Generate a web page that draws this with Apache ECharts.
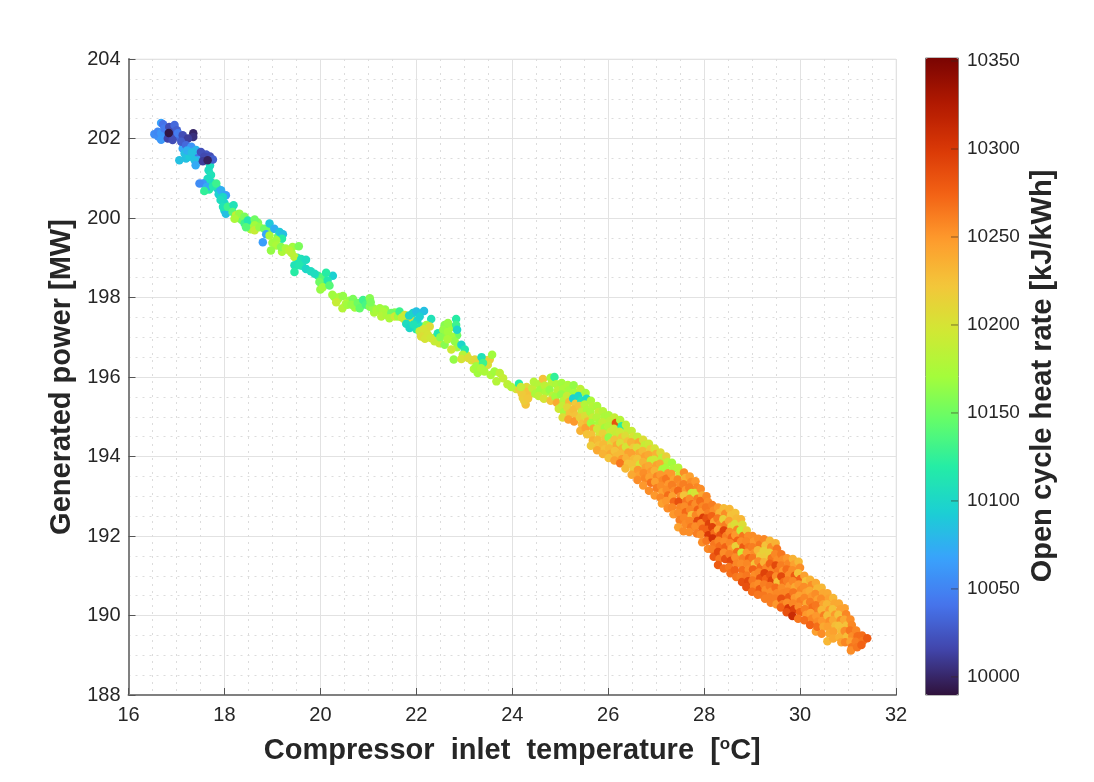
<!DOCTYPE html>
<html>
<head>
<meta charset="utf-8">
<title>Generated power vs compressor inlet temperature</title>
<script src="https://cdn.jsdelivr.net/npm/echarts@6/dist/echarts.min.js"></script>
<style>html,body{margin:0;padding:0;background:#fff}#chart{width:1094px;height:782px}</style>
</head>
<body>
<div id="chart"></div>
<script>
// Each record: compressor inlet temperature [degC], generated power [MW], heat rate [kJ/kWh]
const coldFill = [
[16.62,202.05,10058],[16.74,202.08,10050],[16.78,202.18,10030],[16.9,202.1,10010],[16.88,202.22,10025],[16.97,202.05,10022],
[17.07,202.03,10035],[17.18,201.95,10025],[17.13,201.75,10070],[17.25,201.75,10080],[17.33,201.58,10085],[17.2,201.5,10085],
[17.47,201.58,10040],[17.62,201.6,10025],[17.7,201.55,10020],[17.46,201.45,10070],[17.7,201.32,10105],[17.62,200.9,10080],
[17.72,200.9,10100],[17.68,200.72,10120],[17.85,200.75,10085],[17.88,200.6,10095],[18.0,200.38,10100],[18.12,200.2,10135],
[18.28,200.0,10170],[18.36,199.95,10150],[18.55,199.88,10140],[18.7,199.88,10155],[18.55,199.72,10175],[18.98,199.72,10140],
[19.12,199.55,10150],[19.0,199.38,10170],[19.2,199.15,10175],[19.4,199.12,10180],[19.52,199.0,10125],[19.62,198.8,10110],
[19.95,198.55,10125],[20.1,198.38,10130],[20.0,198.2,10165]
];
const coldBranch = [
[16.54,202.11,10055],[16.61,202.17,10052],[16.68,202.39,10068],[16.72,202.36,10040],[16.68,202.13,10060],[16.68,201.97,10062],
[16.75,202.25,10045],[16.82,202.0,10015],[16.85,202.29,10020],[16.96,202.34,10035],[17.01,202.21,10030],[16.92,201.96,10020],
[17.03,202.13,10045],[17.13,202.08,10020],[17.35,202.13,10000],[17.35,202.04,10005],[17.24,202.0,10012],[16.84,202.14,9992],
[17.1,201.92,10028],[17.2,201.83,10035],[17.31,201.79,10060],[17.41,201.71,10078],[17.17,201.62,10085],[17.06,201.45,10085],
[17.27,201.54,10090],[17.38,201.45,10085],[17.4,201.33,10072],[17.22,201.7,10075],[17.32,201.65,10085],[17.51,201.66,10022],
[17.58,201.54,10018],[17.76,201.47,10030],[17.55,201.43,10012],[17.65,201.45,9998],[17.67,201.2,10105],[17.72,201.08,10110],
[17.65,200.99,10105],[17.55,200.87,10060],[17.48,200.87,10055],[17.63,200.78,10072],[17.58,200.68,10125],[17.76,200.8,10115],
[17.83,200.87,10130],[17.93,200.7,10075],[18.03,200.57,10065],[17.97,200.53,10100],[17.92,200.45,10105],[18.0,200.19,10095],
[18.03,200.11,10085],[17.97,200.28,10110],[18.07,200.28,10130],[18.19,200.32,10110],[18.17,200.15,10140],[18.24,200.07,10190],
[18.31,200.11,10165],[18.21,199.98,10175],[18.42,200.03,10155],[18.42,199.86,10130],[18.49,199.94,10115],[18.45,199.77,10140],
[18.63,199.96,10150],[18.63,199.82,10170],[18.63,199.69,10190],[18.73,199.77,10165],[18.83,199.73,10150],[18.94,199.86,10090],
[18.9,199.65,10150],[18.87,199.59,10070],[18.8,199.39,10065],[18.94,199.56,10175],[19.04,199.73,10075],[19.15,199.65,10090],
[19.22,199.59,10085],[19.2,199.48,10120],[19.08,199.44,10170],[19.08,199.31,10175],[18.97,199.18,10165],[19.18,199.27,10160],
[19.28,199.23,10175],[19.42,199.27,10170],[19.55,199.29,10155],[19.35,199.18,10185],[19.46,199.02,10185],[19.6,198.97,10110],
[19.7,198.95,10105],[19.53,198.85,10115],[19.46,198.81,10110],[19.46,198.64,10120],[19.56,198.81,10115],[19.7,198.72,10100],
[19.8,198.66,10105],[19.88,198.6,10105],[20.05,198.51,10140],[20.26,198.55,10095],[20.15,198.43,10115],[19.98,198.39,10150],
[20.05,198.26,10170],[20.19,198.3,10140],[20.12,198.62,10120]
];
const plateauFill = [
[20.37,197.96,10175],[20.6,197.92,10165],[20.72,197.75,10170],[20.85,197.82,10145],[20.97,197.9,10140],[21.12,197.62,10175],
[21.35,197.7,10165],[21.55,197.62,10160],[21.9,197.45,10205],[22.02,197.42,10100],[22.0,197.2,10120],[22.2,197.15,10195],
[22.4,197.0,10150],[22.48,196.85,10195],[22.6,197.1,10165],[22.72,197.25,10170],[22.85,197.05,10150],[22.85,196.75,10170],
[23.05,196.55,10200],[23.15,196.42,10200],[23.3,196.35,10190],[23.45,196.42,10210],[23.2,196.2,10175],[23.55,196.05,10175],
[24.08,195.7,10200],[24.3,195.75,10210]
];
const plateauBranch = [
[20.29,198.01,10170],[20.4,198.01,10175],[20.33,197.88,10190],[20.25,198.07,10170],[20.47,198.04,10165],[20.53,197.84,10180],
[20.46,197.73,10180],[20.56,197.82,10170],[20.68,197.96,10155],[20.65,197.82,10165],[20.78,197.86,10150],[20.82,197.73,10145],
[20.89,197.94,10130],[20.95,197.82,10135],[21.03,197.98,10160],[21.03,197.77,10160],[21.1,197.73,10165],[21.05,197.88,10155],
[21.17,197.68,10175],[21.24,197.73,10170],[21.31,197.65,10175],[21.27,197.52,10180],[21.38,197.56,10175],[21.48,197.61,10150],
[21.44,197.48,10175],[21.55,197.52,10195],[21.62,197.52,10170],[21.65,197.65,10130],[21.76,197.56,10200],[21.76,197.44,10205],
[21.7,197.5,10190],[21.93,197.61,10100],[22.0,197.65,10085],[22.16,197.66,10085],[22.31,197.46,10110],[22.07,197.52,10095],
[21.85,197.55,10100],[21.79,197.34,10105],[21.86,197.23,10100],[21.94,197.32,10110],[22.1,197.27,10110],[22.21,197.31,10170],
[22.28,197.27,10205],[22.07,197.15,10190],[22.15,197.2,10200],[22.1,197.02,10205],[22.24,197.06,10200],[22.18,196.96,10200],
[22.38,196.9,10190],[22.3,196.98,10195],[22.45,197.1,10115],[22.59,197.31,10160],[22.66,197.36,10165],[22.83,197.46,10120],
[22.83,197.31,10130],[22.85,197.19,10100],[22.56,197.19,10165],[22.5,197.0,10160],[22.66,197.14,10170],[22.73,197.02,10170],
[22.8,196.9,10165],[22.59,196.81,10160],[22.65,196.95,10175],[22.73,196.69,10195],[22.94,196.81,10100],[23.01,196.69,10115],
[22.97,196.56,10180],[22.78,196.44,10165],[22.94,196.45,10200],[23.08,196.48,10205],[23.22,196.44,10210],[23.36,196.5,10110],
[23.53,196.44,10215],[23.58,196.56,10170],[23.49,196.31,10205],[23.25,196.27,10170],[23.39,196.35,10130],[23.28,196.1,10170],
[23.42,196.14,10175],[23.35,196.22,10175],[23.63,196.14,10170],[23.74,196.1,10185],[23.81,195.97,10190],[23.67,195.89,10180],
[23.9,195.82,10185],[23.98,195.75,10180],[24.14,195.83,10120],[24.15,195.68,10215],[24.36,195.56,10225],[24.22,195.47,10215],
[24.28,195.31,10225],[24.3,195.62,10225],[24.2,195.58,10220],[24.25,195.4,10218],[24.33,195.46,10222],[24.18,195.75,10190]
];
const westBand = [
[24.42,195.72,10190],[24.45,195.88,10180],[24.48,195.58,10175],[24.56,195.82,10180],[24.58,195.67,10170],[24.55,195.52,10185],
[24.64,195.95,10225],[24.68,195.78,10185],[24.7,195.62,10175],[24.66,195.45,10200],[24.8,195.98,10170],[24.82,195.84,10180],
[24.78,195.68,10165],[24.84,195.53,10180],[24.8,195.4,10225],[24.88,196.0,10125],[24.92,195.82,10175],[24.95,195.66,10185],
[24.9,195.5,10170],[24.93,195.35,10240],[24.97,195.2,10195],[25.03,195.85,10170],[25.06,195.7,10175],[25.02,195.56,10165],
[25.07,195.4,10180],[25.04,195.27,10190],[25.08,195.12,10175],[25.05,194.98,10205],[25.16,195.8,10175],[25.18,195.66,10170],
[25.14,195.52,10190],[25.19,195.37,10230],[25.15,195.23,10210],[25.2,195.08,10225],[25.17,194.93,10245],[25.28,195.79,10165],
[25.31,195.6,10170],[25.27,195.46,10095],[25.32,195.33,10220],[25.28,195.18,10228],[25.33,195.03,10225],[25.29,194.88,10250],
[25.42,195.7,10185],[25.38,195.52,10100],[25.44,195.4,10110],[25.4,195.27,10225],[25.45,195.13,10190],[25.41,194.98,10215],
[25.45,194.82,10225],[25.42,194.65,10235],[25.53,195.6,10170],[25.55,195.45,10105],[25.51,195.31,10180],[25.56,195.17,10175],
[25.52,195.02,10205],[25.57,194.88,10230],[25.53,194.72,10245],[25.56,194.56,10225],[25.64,195.4,10175],[25.67,195.26,10180],
[25.63,195.12,10175],[25.68,194.98,10190],[25.64,194.84,10170],[25.69,194.7,10240],[25.65,194.55,10225],[25.68,194.4,10235],
[25.64,194.27,10220],[25.77,195.27,10175],[25.8,195.12,10190],[25.76,194.98,10180],[25.81,194.84,10175],[25.77,194.7,10195],
[25.82,194.56,10200],[25.78,194.42,10230],[25.81,194.28,10225],[25.77,194.16,10240],[25.89,195.14,10180],[25.92,195.0,10175],
[25.88,194.86,10190],[25.93,194.72,10170],[25.89,194.58,10215],[25.94,194.44,10225],[25.9,194.3,10230],[25.93,194.18,10225],
[25.89,194.06,10235],[26.01,195.04,10175],[26.04,194.9,10185],[26.0,194.76,10180],[26.05,194.62,10195],[26.01,194.48,10165],
[26.06,194.34,10210],[26.02,194.2,10230],[26.05,194.06,10240],[26.01,193.96,10225]
];
const middleBand = [
[26.13,194.98,10190],[26.16,194.84,10285],[26.12,194.7,10195],[26.17,194.56,10190],[26.13,194.42,10225],[26.18,194.28,10240],
[26.14,194.14,10225],[26.17,194.0,10230],[26.13,193.9,10245],[26.25,194.92,10180],[26.28,194.76,10120],[26.24,194.62,10195],
[26.29,194.48,10225],[26.25,194.34,10205],[26.3,194.2,10235],[26.26,194.06,10230],[26.29,193.93,10250],[26.25,193.83,10265],
[26.37,194.8,10185],[26.4,194.66,10190],[26.36,194.52,10205],[26.41,194.38,10225],[26.37,194.24,10200],[26.42,194.1,10245],
[26.38,193.96,10235],[26.41,193.82,10225],[26.36,193.7,10230],[26.49,194.64,10190],[26.52,194.5,10200],[26.48,194.36,10235],
[26.53,194.22,10220],[26.49,194.08,10245],[26.54,193.94,10230],[26.5,193.8,10225],[26.53,193.66,10220],[26.49,193.54,10240],
[26.61,194.5,10190],[26.64,194.36,10240],[26.6,194.22,10205],[26.65,194.08,10240],[26.61,193.94,10225],[26.66,193.8,10200],
[26.62,193.66,10250],[26.65,193.52,10245],[26.61,193.41,10255],[26.73,194.42,10205],[26.76,194.28,10190],[26.72,194.14,10230],
[26.77,194.0,10245],[26.73,193.86,10235],[26.78,193.72,10245],[26.74,193.58,10255],[26.77,193.44,10258],[26.73,193.27,10250],
[26.85,194.32,10195],[26.88,194.18,10220],[26.84,194.04,10240],[26.89,193.9,10190],[26.85,193.76,10240],[26.9,193.62,10250],
[26.86,193.48,10245],[26.89,193.34,10268],[26.85,193.14,10255],[26.97,194.2,10200],[27.0,194.06,10235],[26.96,193.92,10195],
[27.01,193.78,10245],[26.97,193.64,10235],[27.02,193.5,10258],[26.98,193.36,10245],[27.01,193.2,10262],[26.97,193.02,10250],
[27.09,194.1,10205],[27.12,193.96,10185],[27.08,193.82,10240],[27.13,193.68,10175],[27.09,193.54,10250],[27.14,193.4,10258],
[27.1,193.26,10255],[27.13,193.1,10245],[27.09,192.96,10258],[27.12,192.82,10245],[27.21,194.0,10215],[27.24,193.86,10185],
[27.2,193.72,10175],[27.25,193.58,10250],[27.21,193.44,10265],[27.26,193.3,10250],[27.22,193.16,10255],[27.25,193.02,10270],
[27.21,192.88,10250],[27.24,192.7,10255],[27.33,193.84,10170],[27.36,193.7,10175],[27.32,193.56,10250],[27.37,193.42,10245],
[27.33,193.28,10262],[27.38,193.14,10255],[27.34,193.0,10245],[27.37,192.86,10272],[27.33,192.72,10258],[27.36,192.55,10250],
[27.46,193.72,10180],[27.49,193.56,10190],[27.45,193.42,10258],[27.5,193.28,10255],[27.46,193.14,10272],[27.51,193.0,10255],
[27.47,192.86,10285],[27.5,192.72,10258],[27.46,192.58,10255],[27.49,192.4,10262],[27.46,192.22,10245],[27.58,193.6,10255],
[27.61,193.46,10235],[27.57,193.3,10262],[27.62,193.16,10250],[27.58,193.02,10225],[27.63,192.88,10265],[27.59,192.74,10255],
[27.62,192.6,10272],[27.58,192.46,10258],[27.61,192.3,10255],[27.57,192.12,10255],[27.7,193.5,10245],[27.73,193.36,10255],
[27.69,193.22,10262],[27.74,193.08,10190],[27.7,192.94,10255],[27.75,192.8,10270],[27.71,192.66,10258],[27.74,192.52,10225],
[27.7,192.38,10258],[27.73,192.22,10265],[27.69,192.1,10255],[27.82,193.38,10250],[27.85,193.22,10258],[27.81,193.08,10200],
[27.86,192.94,10262],[27.82,192.8,10255],[27.87,192.66,10275],[27.83,192.52,10258],[27.86,192.38,10290],[27.82,192.24,10255],
[27.85,192.06,10262],[27.93,193.18,10255],[27.96,193.02,10240],[27.92,192.88,10270],[27.97,192.74,10258],[27.93,192.6,10250],
[27.98,192.46,10298],[27.94,192.32,10258],[27.97,192.18,10275],[27.93,192.04,10255],[27.96,191.84,10255]
];
const eastBand = [
[28.05,193.0,10258],[28.08,192.86,10255],[28.04,192.72,10265],[28.09,192.58,10262],[28.05,192.44,10285],[28.1,192.3,10295],
[28.06,192.16,10275],[28.09,192.02,10300],[28.05,191.88,10265],[28.08,191.68,10258],[28.17,192.78,10262],[28.2,192.64,10255],
[28.16,192.5,10275],[28.21,192.36,10245],[28.17,192.22,10295],[28.22,192.08,10270],[28.18,191.94,10305],[28.21,191.8,10265],
[28.17,191.66,10262],[28.2,191.48,10280],[28.29,192.72,10250],[28.32,192.58,10235],[28.28,192.44,10265],[28.33,192.3,10258],
[28.29,192.16,10245],[28.34,192.02,10285],[28.3,191.88,10258],[28.33,191.74,10270],[28.29,191.6,10290],[28.32,191.43,10265],
[28.29,191.27,10280],[28.41,192.7,10230],[28.44,192.56,10255],[28.4,192.42,10215],[28.45,192.28,10262],[28.41,192.14,10295],
[28.46,192.0,10262],[28.42,191.86,10255],[28.45,191.72,10275],[28.41,191.58,10255],[28.44,191.42,10285],[28.41,191.18,10270],
[28.53,192.68,10232],[28.56,192.52,10225],[28.52,192.38,10245],[28.57,192.24,10215],[28.53,192.1,10255],[28.58,191.96,10275],
[28.54,191.82,10258],[28.57,191.68,10250],[28.53,191.54,10262],[28.56,191.38,10290],[28.52,191.22,10265],[28.55,191.06,10270],
[28.65,192.58,10225],[28.68,192.44,10230],[28.64,192.3,10205],[28.69,192.16,10258],[28.65,192.02,10250],[28.7,191.88,10275],
[28.66,191.74,10215],[28.69,191.6,10270],[28.65,191.46,10255],[28.68,191.3,10258],[28.64,191.14,10275],[28.67,190.97,10265],
[28.77,192.42,10232],[28.8,192.28,10205],[28.76,192.14,10190],[28.81,192.0,10265],[28.77,191.86,10255],[28.82,191.72,10280],
[28.78,191.58,10195],[28.81,191.44,10262],[28.77,191.3,10255],[28.8,191.14,10270],[28.76,190.98,10262],[28.79,190.84,10285],
[28.89,192.14,10215],[28.92,192.0,10255],[28.88,191.86,10258],[28.93,191.72,10265],[28.89,191.58,10250],[28.94,191.44,10275],
[28.9,191.3,10258],[28.93,191.16,10255],[28.89,191.0,10265],[28.92,190.86,10290],[28.88,190.72,10285],[29.01,192.0,10255],
[29.04,191.86,10250],[29.0,191.72,10262],[29.05,191.58,10255],[29.01,191.44,10265],[29.06,191.3,10225],[29.02,191.16,10275],
[29.05,191.02,10255],[29.01,190.88,10265],[29.04,190.74,10258],[29.0,190.6,10270],[29.13,191.93,10255],[29.16,191.78,10265],
[29.12,191.64,10232],[29.17,191.5,10220],[29.13,191.36,10255],[29.18,191.22,10270],[29.14,191.08,10258],[29.17,190.94,10285],
[29.13,190.8,10255],[29.16,190.66,10280],[29.12,190.52,10265],[29.25,191.92,10258],[29.28,191.76,10225],[29.24,191.62,10215],
[29.29,191.48,10220],[29.25,191.34,10235],[29.3,191.2,10258],[29.26,191.06,10295],[29.29,190.92,10275],[29.25,190.78,10262],
[29.28,190.64,10255],[29.24,190.5,10265],[29.27,190.42,10262],[29.37,191.88,10232],[29.4,191.72,10255],[29.36,191.58,10215],
[29.41,191.44,10265],[29.37,191.3,10275],[29.42,191.16,10258],[29.38,191.02,10285],[29.41,190.88,10295],[29.37,190.74,10265],
[29.4,190.6,10255],[29.36,190.46,10262],[29.39,190.32,10262],[29.49,191.82,10235],[29.52,191.68,10265],[29.48,191.54,10258],
[29.53,191.4,10255],[29.49,191.26,10290],[29.54,191.12,10265],[29.5,190.98,10255],[29.53,190.84,10225],[29.49,190.7,10270],
[29.52,190.56,10258],[29.48,190.42,10262],[29.51,190.28,10250],[29.61,191.54,10265],[29.64,191.4,10255],[29.6,191.26,10262],
[29.65,191.12,10250],[29.61,190.98,10290],[29.66,190.84,10270],[29.62,190.7,10255],[29.65,190.56,10258],[29.61,190.42,10285],
[29.64,190.28,10262],[29.6,190.2,10275],[29.73,191.44,10250],[29.76,191.3,10258],[29.72,191.16,10270],[29.77,191.02,10255],
[29.73,190.88,10262],[29.78,190.74,10250],[29.74,190.6,10258],[29.77,190.46,10280],[29.73,190.32,10255],[29.76,190.18,10300],
[29.72,190.08,10285],[29.85,191.42,10235],[29.88,191.28,10245],[29.84,191.14,10255],[29.89,191.0,10280],[29.85,190.86,10258],
[29.9,190.72,10240],[29.86,190.58,10265],[29.89,190.44,10250],[29.85,190.3,10258],[29.88,190.16,10295],[29.84,189.99,10310],
[29.97,191.35,10230],[30.0,191.2,10255],[29.96,191.06,10225],[30.01,190.92,10275],[29.97,190.78,10250],[30.02,190.64,10258],
[29.98,190.5,10245],[30.01,190.36,10262],[29.97,190.22,10255],[30.0,190.08,10275],[29.96,189.92,10265],[30.09,191.0,10245],
[30.12,190.86,10225],[30.08,190.72,10255],[30.13,190.58,10245],[30.09,190.44,10258],[30.14,190.3,10240],[30.1,190.16,10262],
[30.13,190.02,10250],[30.09,189.88,10270],[30.21,190.9,10235],[30.24,190.76,10255],[30.2,190.62,10240],[30.25,190.48,10250],
[30.21,190.34,10262],[30.26,190.2,10270],[30.22,190.06,10245],[30.25,189.92,10258],[30.21,189.76,10275],[30.33,190.82,10240],
[30.36,190.68,10232],[30.32,190.54,10255],[30.37,190.4,10245],[30.33,190.26,10265],[30.38,190.12,10262],[30.34,189.98,10250],
[30.37,189.84,10255],[30.33,189.6,10245],[30.36,189.72,10270],[30.45,190.7,10232],[30.48,190.56,10240],[30.44,190.42,10255],
[30.49,190.28,10245],[30.45,190.14,10232],[30.5,190.0,10262],[30.46,189.86,10250],[30.49,189.72,10240],[30.45,189.54,10255],
[30.57,190.56,10240],[30.6,190.42,10245],[30.56,190.28,10232],[30.61,190.14,10250],[30.57,190.0,10228],[30.62,189.86,10255],
[30.58,189.72,10245],[30.61,189.55,10240],[30.57,189.35,10232],[30.69,190.44,10232],[30.72,190.3,10240],[30.68,190.16,10225],
[30.73,190.02,10250],[30.69,189.88,10240],[30.74,189.74,10228],[30.7,189.6,10245],[30.69,189.42,10240],[30.81,190.3,10240],
[30.84,190.16,10245],[30.8,190.02,10225],[30.85,189.88,10255],[30.81,189.74,10225],[30.86,189.6,10228],[30.82,189.45,10235],
[30.86,189.33,10245],[30.93,190.18,10245],[30.96,190.03,10258],[30.92,189.89,10240],[30.97,189.75,10225],[30.93,189.61,10255],
[30.98,189.47,10228],[30.94,189.33,10258],[31.05,189.9,10255],[31.08,189.76,10258],[31.04,189.62,10265],[31.09,189.48,10255],
[31.05,189.34,10245],[31.08,189.2,10265],[31.06,189.12,10255],[31.17,189.62,10258],[31.2,189.48,10270],[31.16,189.34,10262],
[31.19,189.2,10265],[31.29,189.5,10270],[31.31,189.36,10265],[31.28,189.26,10275],[31.4,189.43,10280]
];
const tempTicks = [16, 18, 20, 22, 24, 26, 28, 30, 32];
const powerTicks = [188, 190, 192, 194, 196, 198, 200, 202, 204];
const heatRateTicks = [10000, 10050, 10100, 10150, 10200, 10250, 10300, 10350];
const heatRateRange = [9990, 10352];
const turboColors = ['#30123b','#4145ab','#4675ed','#39a2fc','#1bcfd4','#24eca6','#61fc6c','#a4fc3b','#d1e834','#f3c63a','#fe9b2d','#f36315','#d93806','#b11901','#7a0402'];

const observations = [].concat(coldFill, coldBranch, plateauFill, plateauBranch, westBand, middleBand, eastBand);
const font = '"Liberation Sans", Arial, sans-serif';
const ink = '#262626';
const titleStyle = { fontFamily: font, fontSize: 29, fontWeight: 'bold', color: ink };
const minorGrid = { show: true, lineStyle: { color: '#dcdcdc', width: 1, type: [2, 5] } };

const chart = echarts.init(document.getElementById('chart'), null, { renderer: 'canvas' });
chart.setOption({
  animation: false,
  backgroundColor: '#ffffff',
  grid: [
    { left: 128.5, top: 59, width: 767.5, height: 636, show: true, borderColor: '#ececec', borderWidth: 1, containLabel: false },
    { left: 925, top: 57.5, width: 33, height: 637, show: false }
  ],
  xAxis: [
    {
      type: 'value', gridIndex: 0, min: tempTicks[0], max: tempTicks[tempTicks.length - 1], interval: 2,
      name: '{t|Compressor  inlet  temperature  [}{s|o}{t|C]}', nameLocation: 'middle', nameGap: 41,
      nameTextStyle: Object.assign({}, titleStyle, { rich: {
        t: titleStyle,
        s: { fontFamily: font, fontSize: 17, fontWeight: 'bold', color: ink, padding: [0, 0, 12, 0] }
      } }),
      axisLine: { show: true, onZero: false, lineStyle: { color: '#808080', width: 2 } },
      axisTick: { show: true, inside: true, length: 7, lineStyle: { color: '#555555', width: 1 } },
      axisLabel: { fontFamily: font, fontSize: 20, color: ink, margin: 10 },
      splitLine: { show: true, lineStyle: { color: '#e2e2e2', width: 1 } },
      minorTick: { show: false, splitNumber: 4 },
      minorSplitLine: minorGrid
    },
    { type: 'value', gridIndex: 1, min: 0, max: 1, show: false }
  ],
  yAxis: [
    {
      type: 'value', gridIndex: 0, min: powerTicks[0], max: powerTicks[powerTicks.length - 1], interval: 2,
      name: 'Generated power [MW]', nameLocation: 'middle', nameGap: 51, nameRotate: 90,
      nameTextStyle: titleStyle,
      axisLine: { show: true, onZero: false, lineStyle: { color: '#808080', width: 2 } },
      axisTick: { show: true, inside: true, length: 7, lineStyle: { color: '#555555', width: 1 } },
      axisLabel: { fontFamily: font, fontSize: 20, color: ink, margin: 8 },
      splitLine: { show: true, lineStyle: { color: '#e2e2e2', width: 1 } },
      minorTick: { show: false, splitNumber: 4 },
      minorSplitLine: minorGrid
    },
    {
      type: 'value', gridIndex: 1, position: 'right', z: 10, min: heatRateRange[0], max: heatRateRange[1],
      name: 'Open cycle heat rate [kJ/kWh]', nameLocation: 'middle', nameGap: 70, nameRotate: 90,
      nameTextStyle: titleStyle,
      axisLine: { show: false },
      axisTick: { show: false },
      axisLabel: { fontFamily: font, fontSize: 19, color: ink, margin: 9, customValues: heatRateTicks, formatter: v => String(v) },
      splitLine: { show: false }
    }
  ],
  visualMap: {
    type: 'continuous', seriesIndex: 0, dimension: 2, min: heatRateRange[0], max: heatRateRange[1],
    left: 925, top: 57.5, itemWidth: 33, itemHeight: 637, padding: 0, text: ['', ''], textGap: 0,
    calculable: false, hoverLink: false, borderColor: '#7a7a7a', borderWidth: 1,
    inRange: { color: turboColors }
  },
  series: [
    {
      type: 'scatter', xAxisIndex: 0, yAxisIndex: 0, data: observations,
      symbol: 'circle', symbolSize: 8.5, silent: true,
      itemStyle: { opacity: 1 }
    },
    {
      // tick marks on the inner right edge of the colour bar
      type: 'scatter', xAxisIndex: 1, yAxisIndex: 1, z: 10, silent: true,
      data: heatRateTicks.map(v => [1, v]),
      symbol: 'rect', symbolSize: [7, 1], symbolOffset: [-3.5, 0],
      itemStyle: { color: 'rgba(60,40,30,0.75)' }
    }
  ]
});
</script>
</body>
</html>
